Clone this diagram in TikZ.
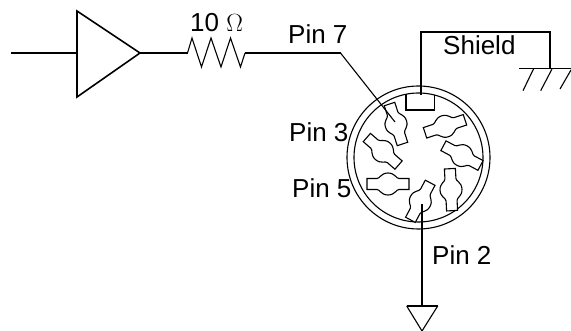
\documentclass[tikz,border=0pt]{standalone}
\usepackage{fontspec}
\setmainfont{Liberation Sans}
\usetikzlibrary{positioning}

\begin{document}
\begin{tikzpicture}[x=1pt,y=-1pt,
  wire/.style={line width=1.6pt, black},
  thinwire/.style={line width=1.1pt, black},
  shell/.style={line width=1.1pt, black},
  pinlabel/.style={font=\fontsize{26}{28}\selectfont, inner sep=0pt, anchor=base west},
  pinblade/.pic={
    \draw[thinwire, fill=white] (-21,-5.5) -- (-11,-5.5)
      .. controls (-8,-5.5) and (-7,-11) .. (0,-11)
      .. controls (7,-11) and (8,-5.5) .. (11,-5.5)
      -- (21,-5.5) -- (21,5.5) -- (11,5.5)
      .. controls (8,5.5) and (7,11) .. (0,11)
      .. controls (-7,11) and (-8,5.5) .. (-11,5.5)
      -- (-21,5.5) -- cycle;
  }
]
\useasboundingbox (0,0) rectangle (571,331);

% Buffer and resistor
\coordinate (in) at (11,53);
\coordinate (buffertop) at (77,11);
\coordinate (bufferbot) at (77,97);
\coordinate (bufferleft) at (77,53);
\coordinate (bufferout) at (140,53);
\coordinate (resleft) at (187.5,53);
\coordinate (resright) at (245,53);
\coordinate (pinbend) at (340.5,53);
\coordinate (pinend) at (395,122);
\draw[wire] (in) -- (bufferleft);
\draw[wire] (buffertop) -- (bufferbot) -- (bufferout) -- cycle;
\draw[wire] (bufferout) -- (resleft);
\draw[thinwire] (resleft) -- (192,38) -- (201.5,67) -- (211,38) -- (221,67) -- (230.5,38) -- (240.5,67) -- (resright);
\draw[wire] (resright) -- (pinbend);
\node[pinlabel] (reslabel) at (190,32) {10 $\Omega$};

% Connector shell
\node[draw, shell, circle, minimum size=143pt, inner sep=0pt] (outer) at (418.5,157.5) {};
\node[draw, shell, circle, minimum size=129pt, inner sep=0pt] (inner) at (418.5,157.5) {};

% Pins
\pic[rotate=-72] at (396,124) {pinblade};
\pic[rotate=-41] at (382.7,151.3) {pinblade};
\pic[rotate=0] at (388,184) {pinblade};
\pic[rotate=62] at (420.3,201.3) {pinblade};
\pic[rotate=-87] at (451,189.7) {pinblade};
\pic[rotate=-28] at (462,155.6) {pinblade};
\pic[rotate=18] at (445,126.3) {pinblade};

\draw[thinwire] (pinbend) -- (pinend);
\draw[wire] (406,94.5) -- (406,110.3) -- (434.3,110.3) -- (434.3,95);

% Shield and grounds
\coordinate (shieldstart) at (420.7,95);
\coordinate (shieldtl) at (420.7,32.3);
\coordinate (shieldtr) at (550,32.3);
\coordinate (shieldgnd) at (550,68.7);
\draw[wire] (shieldstart) -- (shieldtl) -- (shieldtr) -- (shieldgnd);
\draw[wire] (519,68.7) -- (571,68.7);
\draw[thinwire] (523,90.7) -- (533.5,69);
\draw[thinwire] (540.7,90.7) -- (552,69);
\draw[thinwire] (560,89) -- (571,70);
\node[pinlabel] (shieldlabel) at (443,55) {Shield};

\coordinate (pintwotop) at (422,204);
\coordinate (gndtop) at (422,306);
\draw[wire] (pintwotop) -- (gndtop);
\draw[wire] (406.7,306) -- (437.7,306);
\draw[thinwire] (406.7,306) -- (422,331) -- (437.7,306);

\node[pinlabel] (pinseven) at (288,44) {Pin 7};
\node[pinlabel] (pinthree) at (289,142) {Pin 3};
\node[pinlabel] (pinfive) at (292,198) {Pin 5};
\node[pinlabel] (pintwo) at (432,265) {Pin 2};
\end{tikzpicture}
\end{document}
